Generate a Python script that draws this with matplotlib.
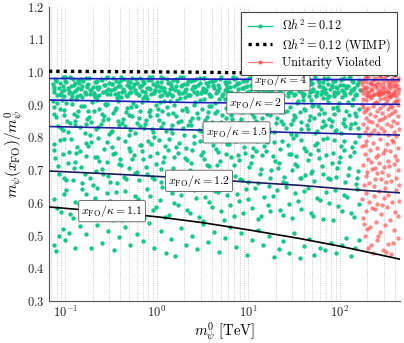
import numpy as np
import matplotlib
matplotlib.use('Agg')
import matplotlib.pyplot as plt
from matplotlib.lines import Line2D
from matplotlib.ticker import NullFormatter

plt.rcParams['font.family'] = 'serif'
plt.rcParams['font.serif'] = ['cmr10']
plt.rcParams['mathtext.fontset'] = 'cm'
plt.rcParams['axes.formatter.use_mathtext'] = True

# scan points: (log10 m0 [TeV], m(x_FO)/m0)
green_top = [
    (-1.14,.962),(-1.12,.938),(-1.10,.975),(-1.07,.951),(-1.05,.929),(-1.03,.983),(-1.01,.946),(-0.99,.969),(-0.96,.934),(-0.94,.957),
    (-0.92,.979),(-0.90,.941),(-0.87,.926),(-0.85,.965),(-0.83,.949),(-0.81,.972),(-0.78,.931),(-0.76,.955),(-0.74,.981),(-0.72,.944),
    (-0.69,.937),(-0.67,.968),(-0.65,.953),(-0.63,.928),(-0.60,.976),(-0.58,.959),(-0.56,.942),(-0.54,.984),(-0.51,.933),(-0.49,.964),
    (-0.47,.947),(-0.45,.971),(-0.42,.927),(-0.40,.956),(-0.38,.939),(-0.36,.978),(-0.33,.961),(-0.31,.935),(-0.29,.952),(-0.27,.982),
    (-0.24,.944),(-0.22,.967),(-0.20,.929),(-0.18,.958),(-0.15,.973),(-0.13,.940),(-0.11,.950),(-0.09,.985),(-0.06,.932),(-0.04,.963),
    (-0.02,.945),(0.00,.970),(0.03,.926),(0.05,.954),(0.07,.980),(0.09,.938),(0.12,.966),(0.14,.949),(0.16,.930),(0.18,.975),
    (0.21,.957),(0.23,.943),(0.25,.983),(0.27,.934),(0.30,.962),(0.32,.948),(0.34,.971),(0.36,.928),(0.39,.955),(0.41,.939),
    (0.43,.977),(0.45,.960),(0.48,.936),(0.50,.952),(0.52,.981),(0.54,.945),(0.57,.968),(0.59,.927),(0.61,.959),(0.63,.974),
    (0.66,.941),(0.68,.951),(0.70,.984),(0.72,.931),(0.75,.964),(0.77,.946),(0.79,.969),(0.81,.927),(0.84,.956),(0.86,.980),
    (0.88,.937),(0.90,.965),(0.93,.950),(0.95,.929),(0.97,.976),(0.99,.958),(1.02,.942),(1.04,.983),(1.06,.933),(1.08,.963),
    (1.11,.947),(1.13,.972),(1.15,.926),(1.17,.955),(1.20,.938),(1.22,.978),(1.24,.961),(1.26,.935),(1.29,.953),(1.31,.981),
    (1.33,.944),(1.35,.967),(1.38,.930),(1.40,.958),(1.42,.973),(1.44,.940),(1.47,.950),(1.49,.985),(1.51,.932),(1.53,.963),
    (1.56,.945),(1.58,.970),(1.60,.927),(1.62,.954),(1.65,.979),(1.67,.938),(1.69,.966),(1.71,.949),(1.74,.930),(1.76,.975),
    (1.78,.957),(1.80,.943),(1.83,.982),(1.85,.934),(1.87,.962),(1.89,.948),(1.92,.971),(1.94,.928),(1.96,.955),(1.98,.939),
    (2.01,.977),(2.03,.960),(2.05,.936),(2.07,.952),(2.10,.980),(2.12,.945),(2.14,.968),(2.16,.928),(2.19,.959),(2.21,.974),
    (-1.13,.947),(-1.10,.971),(-1.06,.933),(-1.03,.958),(-1.00,.984),(-0.96,.941),(-0.93,.925),(-0.89,.966),(-0.86,.952),(-0.83,.977),
    (-0.79,.936),(-0.76,.961),(-0.73,.944),(-0.69,.929),(-0.66,.973),(-0.63,.955),(-0.59,.939),(-0.56,.982),(-0.53,.949),(-0.49,.964),
    (-0.46,.931),(-0.43,.957),(-0.39,.976),(-0.36,.942),(-0.33,.927),(-0.29,.969),(-0.26,.953),(-0.23,.937),(-0.19,.980),(-0.16,.960),
    (-0.13,.926),(-0.09,.950),(-0.06,.974),(-0.03,.939),(0.01,.958),(0.04,.983),(0.07,.944),(0.11,.930),(0.14,.967),(0.17,.952),
    (0.21,.978),(0.24,.935),(0.27,.961),(0.31,.946),(0.34,.928),(0.37,.972),(0.41,.956),(0.44,.940),(0.47,.981),(0.51,.948),
    (0.54,.965),(0.57,.932),(0.61,.958),(0.64,.975),(0.67,.943),(0.71,.926),(0.74,.968),(0.77,.954),(0.81,.938),(0.84,.979),
    (0.87,.962),(0.91,.925),(0.94,.951),(0.97,.973),(1.01,.940),(1.04,.957),(1.07,.984),(1.11,.945),(1.14,.931),(1.17,.966),
    (1.21,.953),(1.24,.977),(1.27,.936),(1.31,.960),(1.34,.943),(1.37,.929),(1.41,.972),(1.44,.955),(1.47,.939),(1.51,.982),
    (1.54,.949),(1.57,.964),(1.61,.931),(1.64,.957),(1.67,.976),(1.71,.942),(1.74,.927),(1.77,.969),(1.81,.953),(1.84,.937),
    (1.87,.980),(1.91,.960),(1.94,.926),(1.97,.950),(2.01,.974),(2.04,.939),(2.07,.958),(2.11,.983),(2.14,.944),(2.18,.930),
    (-1.13,.955),(-1.11,.979),(-1.09,.930),(-1.06,.967),(-1.04,.943),(-1.02,.926),(-1.00,.972),(-0.97,.950),(-0.95,.985),(-0.93,.936),
    (-0.91,.961),(-0.88,.946),(-0.86,.975),(-0.84,.928),(-0.82,.957),(-0.79,.940),(-0.77,.982),(-0.75,.963),(-0.73,.933),(-0.70,.953),
    (-0.68,.970),(-0.66,.925),(-0.64,.948),(-0.61,.977),(-0.59,.938),(-0.57,.959),(-0.55,.931),(-0.52,.966),(-0.50,.944),(-0.48,.980),
    (-0.46,.951),(-0.43,.934),(-0.41,.968),(-0.39,.985),(-0.37,.947),(-0.34,.929),(-0.32,.973),(-0.30,.956),(-0.28,.939),(-0.25,.962),
    (-0.23,.978),(-0.21,.932),(-0.19,.954),(-0.16,.941),(-0.14,.965),(-0.12,.927),(-0.10,.975),(-0.07,.949),(-0.05,.983),(-0.03,.936),
    (-0.01,.958),(0.02,.943),(0.04,.969),(0.06,.930),(0.08,.952),(0.11,.979),(0.13,.937),(0.15,.960),(0.17,.925),(0.20,.946),
    (0.22,.971),(0.24,.934),(0.26,.956),(0.29,.984),(0.31,.940),(0.33,.963),(0.35,.929),(0.38,.948),(0.40,.976),(0.42,.954),
    (0.44,.931),(0.47,.967),(0.49,.943),(0.51,.982),(0.53,.938),(0.56,.957),(0.58,.926),(0.60,.973),(0.62,.950),(0.65,.935),
    (0.67,.961),(0.69,.978),(0.71,.928),(0.74,.945),(0.76,.970),(0.78,.939),(0.80,.955),(0.83,.984),(0.85,.932),(0.87,.966),
    (0.89,.947),(0.92,.925),(0.94,.972),(0.96,.953),(0.98,.940),(1.01,.980),(1.03,.960),(1.05,.930),(1.07,.949),(1.10,.975),
    (1.12,.936),(1.14,.962),(1.16,.944),(1.19,.983),(1.21,.928),(1.23,.957),(1.25,.941),(1.28,.969),(1.30,.933),(1.32,.951),
    (1.34,.977),(1.37,.926),(1.39,.948),(1.41,.964),(1.43,.937),(1.46,.981),(1.48,.955),(1.50,.929),(1.52,.970),(1.55,.942),
    (1.57,.959),(1.59,.934),(1.61,.976),(1.64,.951),(1.66,.927),(1.68,.963),(1.70,.945),(1.73,.984),(1.75,.938),(1.77,.956),
    (1.79,.931),(1.82,.968),(1.84,.947),(1.86,.979),(1.88,.925),(1.91,.953),(1.93,.940),(1.95,.973),(1.97,.935),(2.00,.961),
    (2.02,.944),(2.04,.982),(2.06,.929),(2.09,.957),(2.11,.937),(2.13,.971),(2.15,.950),(2.18,.933),(2.20,.966),(2.22,.946),
]
green_upper = [
    (-1.14,.912),(-1.10,.861),(-1.06,.887),(-1.03,.823),(-0.99,.904),(-0.95,.845),(-0.91,.872),(-0.88,.918),(-0.84,.831),(-0.80,.896),
    (-0.76,.856),(-0.73,.808),(-0.69,.879),(-0.65,.915),(-0.61,.840),(-0.58,.866),(-0.54,.901),(-0.50,.817),(-0.46,.884),(-0.43,.851),
    (-0.39,.922),(-0.35,.835),(-0.31,.869),(-0.28,.893),(-0.24,.812),(-0.20,.858),(-0.16,.908),(-0.13,.842),(-0.09,.876),(-0.05,.826),
    (-0.01,.899),(0.02,.853),(0.06,.881),(0.10,.819),(0.14,.910),(0.17,.838),(0.21,.864),(0.25,.920),(0.29,.828),(0.32,.889),
    (0.36,.849),(0.40,.805),(0.44,.874),(0.47,.913),(0.51,.836),(0.55,.862),(0.59,.897),(0.62,.815),(0.66,.882),(0.70,.847),
    (0.74,.917),(0.77,.833),(0.81,.867),(0.85,.891),(0.89,.810),(0.92,.855),(0.96,.906),(1.00,.844),(1.04,.871),(1.07,.821),
    (1.11,.903),(1.15,.859),(1.19,.885),(1.22,.825),(1.26,.911),(1.30,.843),(1.34,.878),(1.37,.919),(1.41,.829),(1.45,.894),
    (1.49,.852),(1.52,.806),(1.56,.877),(1.60,.914),(1.64,.839),(1.67,.865),(1.71,.900),(1.75,.818),(1.79,.886),(1.82,.850),
    (1.86,.921),(1.90,.834),(1.94,.870),(1.97,.892),(2.01,.813),(2.05,.857),(2.09,.907),(2.12,.841),(2.16,.873),(2.20,.827),
    (-1.12,.893),(-1.08,.834),(-1.04,.915),(-1.01,.868),(-0.97,.817),(-0.93,.902),(-0.89,.849),(-0.86,.879),(-0.82,.924),(-0.78,.841),
    (-0.74,.862),(-0.71,.909),(-0.67,.825),(-0.63,.886),(-0.59,.853),(-0.56,.898),(-0.52,.811),(-0.48,.873),(-0.44,.919),(-0.41,.837),
    (-0.37,.857),(-0.33,.890),(-0.29,.821),(-0.26,.905),(-0.22,.845),(-0.18,.881),(-0.14,.829),(-0.11,.916),(-0.07,.864),(-0.03,.802),
    (0.01,.888),(0.04,.832),(0.08,.912),(0.12,.870),(0.16,.814),(0.19,.900),(0.23,.846),(0.27,.883),(0.31,.923),(0.34,.839),
    (0.38,.860),(0.42,.907),(0.46,.822),(0.49,.887),(0.53,.854),(0.57,.895),(0.61,.809),(0.64,.875),(0.68,.918),(0.72,.836),
    (0.76,.859),(0.79,.889),(0.83,.820),(0.87,.904),(0.91,.848),(0.94,.880),(0.98,.830),(1.02,.914),(1.06,.863),(1.09,.804),
    (1.13,.891),(1.17,.833),(1.21,.913),(1.24,.867),(1.28,.816),(1.32,.901),(1.36,.850),(1.39,.878),(1.43,.925),(1.47,.840),
    (1.51,.861),(1.54,.910),(1.58,.824),(1.62,.885),(1.66,.852),(1.69,.897),(1.73,.812),(1.77,.872),(1.81,.920),(1.84,.838),
    (1.88,.856),(1.92,.890),(1.96,.822),(1.99,.906),(2.03,.844),(2.07,.882),(2.11,.828),(2.14,.917),(2.18,.865),(2.21,.803),
    (-1.13,.870),(-1.09,.905),(-1.05,.829),(-1.02,.884),(-0.98,.851),(-0.94,.918),(-0.90,.838),(-0.87,.866),(-0.83,.895),(-0.79,.813),
    (-0.75,.880),(-0.72,.846),(-0.68,.922),(-0.64,.832),(-0.60,.871),(-0.57,.903),(-0.53,.855),(-0.49,.820),(-0.45,.889),(-0.42,.911),
    (-0.38,.843),(-0.34,.877),(-0.30,.808),(-0.27,.864),(-0.23,.897),(-0.19,.836),(-0.15,.920),(-0.12,.853),(-0.08,.884),(-0.04,.817),
    (0.00,.869),(0.03,.909),(0.07,.843),(0.11,.893),(0.15,.826),(0.18,.875),(0.22,.914),(0.26,.851),(0.30,.807),(0.33,.882),
    (0.37,.837),(0.41,.898),(0.45,.860),(0.48,.819),(0.52,.916),(0.56,.878),(0.60,.846),(0.63,.904),(0.67,.831),(0.71,.868),
    (0.75,.891),(0.78,.812),(0.82,.856),(0.86,.920),(0.90,.838),(0.93,.877),(0.97,.901),(1.01,.824),(1.05,.887),(1.08,.849),
    (1.12,.912),(1.16,.834),(1.20,.872),(1.23,.815),(1.27,.896),(1.31,.858),(1.35,.921),(1.38,.842),(1.42,.880),(1.46,.811),
    (1.50,.868),(1.53,.905),(1.57,.847),(1.61,.887),(1.65,.826),(1.68,.915),(1.72,.858),(1.76,.895),(1.80,.832),(1.83,.873),
    (1.87,.909),(1.91,.849),(1.95,.818),(1.98,.883),(2.02,.923),(2.06,.836),(2.10,.868),(2.13,.899),(2.17,.844),(2.21,.886),
]
green_middle = [
    (-1.13,.781),(-1.08,.712),(-1.03,.748),(-0.99,.669),(-0.94,.794),(-0.89,.726),(-0.84,.759),(-0.79,.687),(-0.75,.772),(-0.70,.655),
    (-0.65,.739),(-0.60,.704),(-0.55,.787),(-0.51,.663),(-0.46,.752),(-0.41,.719),(-0.36,.678),(-0.31,.766),(-0.27,.733),(-0.22,.695),
    (-0.17,.776),(-0.12,.709),(-0.07,.744),(-0.03,.672),(0.02,.791),(0.07,.723),(0.12,.762),(0.17,.684),(0.21,.769),(0.26,.658),
    (0.31,.736),(0.36,.701),(0.41,.784),(0.45,.666),(0.50,.755),(0.55,.716),(0.60,.681),(0.65,.763),(0.69,.729),(0.74,.692),
    (0.79,.779),(0.84,.715),(0.89,.746),(0.93,.668),(0.98,.797),(1.03,.721),(1.08,.757),(1.13,.689),(1.17,.774),(1.22,.652),
    (1.27,.742),(1.32,.706),(1.37,.789),(1.41,.661),(1.46,.750),(1.51,.718),(1.56,.676),(1.61,.768),(1.65,.731),(1.70,.697),
    (1.75,.783),(1.80,.711),(1.85,.747),(1.89,.671),(1.94,.792),(1.99,.725),(2.04,.760),(2.09,.686),(2.13,.771),(2.18,.657),
    (-1.11,.738),(-1.06,.793),(-1.01,.676),(-0.96,.754),(-0.91,.707),(-0.87,.770),(-0.82,.661),(-0.77,.744),(-0.72,.786),(-0.67,.697),
    (-0.63,.728),(-0.58,.764),(-0.53,.682),(-0.48,.749),(-0.43,.799),(-0.39,.715),(-0.34,.673),(-0.29,.758),(-0.24,.690),(-0.19,.777),
    (-0.15,.735),(-0.10,.790),(-0.05,.679),(0.00,.751),(0.05,.703),(0.09,.773),(0.14,.664),(0.19,.741),(0.24,.782),(0.29,.694),
    (0.33,.731),(0.38,.761),(0.43,.685),(0.48,.746),(0.53,.796),(0.57,.712),(0.62,.670),(0.67,.756),(0.72,.693),(0.77,.780),
    (0.81,.740),(0.86,.788),(0.91,.674),(0.96,.753),(1.01,.708),(1.05,.767),(1.10,.659),(1.15,.745),(1.20,.785),(1.25,.699),
    (1.29,.727),(1.34,.765),(1.39,.680),(1.44,.748),(1.49,.798),(1.53,.713),(1.58,.675),(1.63,.759),(1.68,.691),(1.73,.778),
    (1.77,.737),(1.82,.794),(1.87,.677),(1.92,.752),(1.97,.705),(2.01,.772),(2.06,.662),(2.11,.743),(2.16,.787),(2.20,.698),
    (-1.12,.760),(-1.07,.688),(-1.02,.795),(-0.97,.722),(-0.92,.668),(-0.88,.751),(-0.83,.709),(-0.78,.783),(-0.73,.676),(-0.68,.740),
    (-0.64,.797),(-0.59,.689),(-0.54,.726),(-0.49,.771),(-0.44,.660),(-0.40,.735),(-0.35,.790),(-0.30,.705),(-0.25,.746),(-0.20,.668),
    (-0.16,.757),(-0.11,.687),(-0.06,.779),(-0.01,.717),(0.04,.664),(0.08,.741),(0.13,.794),(0.18,.706),(0.23,.752),(0.28,.675),
    (0.32,.768),(0.37,.722),(0.42,.656),(0.47,.788),(0.52,.733),(0.56,.690),(0.61,.777),(0.66,.714),(0.71,.656),(0.76,.750),
    (0.80,.796),(0.85,.681),(0.90,.732),(0.95,.770),(1.00,.663),(1.04,.742),(1.09,.788),(1.14,.703),(1.19,.759),(1.24,.676),
    (1.28,.785),(1.33,.722),(1.38,.663),(1.43,.776),(1.48,.700),(1.52,.742),(1.57,.791),(1.62,.684),(1.67,.749),(1.72,.667),
    (1.76,.762),(1.81,.688),(1.86,.797),(1.91,.722),(1.96,.678),(2.00,.741),(2.05,.789),(2.10,.707),(2.15,.754),(2.19,.676),
]
green_lower = [
    (-1.12,.612),(-1.05,.571),(-0.99,.638),(-0.92,.553),(-0.85,.596),(-0.78,.627),(-0.72,.582),(-0.65,.645),(-0.58,.561),(-0.51,.604),
    (-0.45,.633),(-0.38,.548),(-0.31,.589),(-0.24,.620),(-0.18,.566),(-0.11,.641),(-0.04,.578),(0.03,.609),(0.09,.556),(0.16,.630),
    (0.23,.593),(0.30,.647),(0.36,.569),(0.43,.615),(0.50,.544),(0.57,.601),(0.63,.636),(0.70,.575),(0.77,.623),(0.84,.558),
    (0.90,.606),(0.97,.642),(1.04,.585),(1.11,.551),(1.17,.618),(1.24,.574),(1.31,.639),(1.38,.563),(1.44,.597),(1.51,.629),
    (1.58,.580),(1.65,.646),(1.71,.559),(1.78,.608),(1.85,.634),(1.92,.547),(1.98,.591),(2.05,.624),(2.12,.568),(2.19,.643),
    (-1.09,.583),(-1.02,.626),(-0.95,.566),(-0.89,.603),(-0.82,.643),(-0.75,.557),(-0.68,.614),(-0.62,.590),(-0.55,.631),(-0.48,.547),
    (-0.41,.598),(-0.35,.637),(-0.28,.573),(-0.21,.610),(-0.14,.552),(-0.08,.621),(-0.01,.586),(0.06,.648),(0.13,.562),(0.19,.599),
    (0.26,.625),(0.33,.577),(0.40,.640),(0.46,.555),(0.53,.616),(0.60,.587),(0.67,.632),(0.73,.546),(0.80,.594),(0.87,.628),
    (0.94,.568),(1.00,.611),(1.07,.644),(1.14,.560),(1.21,.592),(1.27,.622),(1.34,.579),(1.41,.649),(1.48,.554),(1.54,.605),
    (1.61,.635),(1.68,.570),(1.75,.613),(1.81,.549),(1.88,.600),(1.95,.640),(2.02,.576),(2.08,.617),(2.15,.556),(2.21,.595),
]
green_bottom = [
    (-1.13,.472),(-1.10,.452),(-1.07,.498),(-1.03,.520),(-1.00,.487),(-0.96,.508),(-0.90,.462),(-0.84,.529),(-0.78,.505),(-0.72,.463),
    (-0.66,.531),(-0.60,.478),(-0.53,.512),(-0.47,.455),(-0.41,.494),(-0.35,.526),(-0.29,.470),(-0.22,.503),(-0.15,.483),(-0.09,.538),
    (-0.03,.461),(0.04,.515),(0.10,.447),(0.15,.489),(0.20,.436),(0.26,.524),(0.32,.472),(0.38,.499),(0.44,.458),(0.50,.534),
    (0.56,.481),(0.62,.511),(0.68,.449),(0.74,.493),(0.80,.527),(0.86,.465),(0.92,.506),(0.98,.441),(1.04,.486),(1.10,.518),
    (1.16,.470),(1.22,.497),(1.28,.434),(1.33,.459),(1.38,.482),(1.44,.445),(1.50,.508),(1.56,.431),(1.61,.468),(1.66,.490),
    (1.72,.440),(1.78,.462),(1.84,.455),(1.90,.478),(1.96,.446),(2.02,.470),(2.07,.492),(2.12,.438),(2.17,.463),(2.21,.485),
]
red_points = [
    (2.24,.962),(2.25,.935),(2.26,.978),(2.27,.947),(2.28,.929),(2.29,.970),(2.30,.953),(2.31,.983),(2.32,.940),(2.33,.926),
    (2.34,.966),(2.35,.944),(2.36,.975),(2.37,.932),(2.38,.958),(2.39,.981),(2.40,.937),(2.41,.951),(2.42,.969),(2.43,.928),
    (2.44,.960),(2.45,.942),(2.46,.977),(2.47,.934),(2.48,.955),(2.49,.984),(2.50,.946),(2.51,.927),(2.52,.964),(2.53,.939),
    (2.54,.972),(2.55,.950),(2.56,.931),(2.57,.980),(2.58,.957),(2.59,.943),(2.60,.968),(2.61,.925),(2.62,.961),(2.63,.936),
    (2.64,.974),(2.645,.949),(2.245,.945),(2.305,.926),(2.355,.959),(2.415,.933),(2.465,.952),(2.525,.940),(2.575,.930),(2.625,.948),
    (2.245,.972),(2.265,.955),(2.285,.983),(2.295,.938),(2.325,.965),(2.335,.949),(2.365,.928),(2.375,.977),(2.395,.962),(2.425,.943),
    (2.435,.984),(2.445,.931),(2.475,.967),(2.485,.939),(2.505,.975),(2.535,.956),(2.545,.927),(2.555,.965),(2.585,.974),(2.595,.935),
    (2.605,.956),(2.635,.982),(2.255,.918),(2.285,.884),(2.375,.905),(2.435,.889),(2.485,.921),(2.545,.895),(2.595,.908),(2.635,.915),
    (2.24,.901),(2.25,.842),(2.26,.876),(2.27,.815),(2.28,.913),(2.29,.858),(2.30,.829),(2.31,.889),(2.32,.806),(2.33,.871),
    (2.34,.921),(2.35,.848),(2.36,.895),(2.37,.822),(2.38,.866),(2.39,.909),(2.40,.837),(2.41,.881),(2.42,.812),(2.43,.853),
    (2.44,.917),(2.45,.830),(2.46,.874),(2.47,.898),(2.48,.819),(2.49,.862),(2.50,.906),(2.51,.841),(2.52,.886),(2.53,.808),
    (2.54,.869),(2.55,.922),(2.56,.834),(2.57,.892),(2.58,.851),(2.59,.816),(2.60,.879),(2.61,.911),(2.62,.845),(2.63,.865),
    (2.64,.899),(2.645,.826),(2.255,.892),(2.315,.851),(2.345,.813),(2.405,.904),(2.455,.856),(2.515,.915),(2.565,.873),(2.615,.803),
    (2.24,.772),(2.25,.715),(2.27,.748),(2.28,.681),(2.29,.790),(2.31,.733),(2.32,.660),(2.33,.761),(2.35,.702),(2.36,.783),
    (2.37,.650),(2.39,.739),(2.40,.692),(2.41,.767),(2.43,.721),(2.44,.796),(2.45,.674),(2.47,.753),(2.48,.708),(2.49,.644),
    (2.51,.779),(2.52,.728),(2.53,.686),(2.55,.757),(2.56,.665),(2.57,.793),(2.59,.717),(2.60,.743),(2.61,.677),(2.63,.768),
    (2.64,.699),(2.645,.655),(2.26,.655),(2.30,.694),(2.34,.726),(2.38,.671),(2.42,.745),(2.46,.693),(2.50,.662),(2.54,.712),
    (2.58,.786),(2.62,.731),(2.275,.778),(2.385,.705),(2.495,.760),
    (2.24,.612),(2.25,.553),(2.27,.498),(2.28,.631),(2.29,.576),(2.31,.462),(2.32,.601),(2.33,.527),(2.35,.585),(2.36,.447),
    (2.37,.620),(2.39,.541),(2.40,.486),(2.41,.597),(2.43,.636),(2.44,.509),(2.45,.565),(2.47,.455),(2.48,.614),(2.49,.532),
    (2.51,.588),(2.52,.474),(2.53,.625),(2.55,.548),(2.56,.442),(2.57,.603),(2.59,.518),(2.60,.571),(2.61,.639),(2.63,.493),
    (2.64,.558),(2.645,.606),(2.26,.534),(2.30,.520),(2.34,.471),(2.38,.582),(2.42,.499),(2.46,.594),(2.50,.449),(2.58,.478),
]

# contour lines x_FO/kappa, sampled at these log10 masses
curve_logm = [-1.18, -0.5, 0.03, 0.5, 1.0, 1.34, 1.57, 2.0, 2.3, 2.66]
wimp_ratio = [1.002, 1.001, 1.0, .999, .997, .996, .995, .993, .992, .990]
k4_ratio = [.980, .979, .9785, .978, .9775, .977, .977, .9765, .976, .976]
k2_ratio = [.914, .911, .908, .906, .905, .904, .903, .902, .9015, .901]
k15_ratio = [.833, .829, .825, .822, .818, .816, .814, .811, .809, .807]
k12_ratio = [.697, .688, .680, .673, .663, .657, .653, .643, .637, .630]
k11_ratio = [.587, .571, .556, .539, .517, .501, .490, .467, .449, .427]

labels = [r'$x_{\rm FO}/\kappa = 4$', r'$x_{\rm FO}/\kappa = 2$', r'$x_{\rm FO}/\kappa = 1.5$',
          r'$x_{\rm FO}/\kappa = 1.2$', r'$x_{\rm FO}/\kappa = 1.1$']
label_logm = [1.355, 1.08, 0.87, 0.46, -0.49]
label_ratio = [0.975, 0.904, 0.815, 0.667, 0.574]
line_colors = ['#1c1cc8', '#1c1cb8', '#1e1e9e', '#1c1c5c', '#000000']

y_ticks = [0.3, 0.4, 0.5, 0.6, 0.7, 0.8, 0.9, 1.0, 1.1, 1.2]

green_col = '#14c88c'
red_col = '#ff3a3a'

fig = plt.figure(figsize=(4.04, 3.43), dpi=100)
ax = fig.add_axes([0.121, 0.123, 0.869, 0.858])

g = np.array(green_top + green_upper + green_middle + green_lower + green_bottom)
r = np.array(red_points)
ax.scatter(10**g[:, 0], g[:, 1], s=10, color=green_col, linewidths=0, zorder=2)
ax.scatter(10**r[:, 0], r[:, 1], s=10, color=red_col, alpha=0.6, linewidths=0, zorder=2)

m_line = 10**np.array(curve_logm)
ax.plot(m_line, wimp_ratio, color='black', lw=2.4, dashes=(1, 1.2), zorder=3)
for ratio, col in zip([k4_ratio, k2_ratio, k15_ratio, k12_ratio, k11_ratio], line_colors):
    ax.plot(m_line, ratio, color=col, lw=1.2, zorder=3)

for lab, lx, ly in zip(labels, label_logm, label_ratio):
    ax.text(10**lx, ly, lab, ha='center', va='center', fontsize=8.5, zorder=5,
            bbox=dict(boxstyle='round,pad=0.22,rounding_size=0.12', fc='white', ec='#555555', lw=0.6))

ax.set_xscale('log')
ax.set_xlim(0.066, 453)
ax.set_ylim(0.3, 1.2)
ax.set_yticks(y_ticks)
ax.xaxis.set_minor_formatter(NullFormatter())
ax.xaxis.grid(True, which='both', linestyle=':', color='#bbbbbb', lw=0.6)
ax.set_axisbelow(True)
ax.tick_params(which='both', length=0, labelsize=9, colors='#222222', pad=3)
for s in ['top', 'right']:
    ax.spines[s].set_visible(False)
for s in ['left', 'bottom']:
    ax.spines[s].set_color('#555555')
    ax.spines[s].set_linewidth(0.8)

ax.set_xlabel(r'$m^0_\psi\ [\mathrm{TeV}]$', fontsize=10.5, labelpad=0)
ax.set_ylabel(r'$m_\psi(x_{\rm FO})/m^0_\psi$', fontsize=11, labelpad=1)

handles = [
    Line2D([], [], color=green_col, lw=1, marker='o', markersize=2),
    Line2D([], [], color='black', lw=2.4, dashes=(1, 1.2)),
    Line2D([], [], color=red_col, alpha=0.6, lw=1, marker='o', markersize=2),
]
leg = ax.legend(handles, [r'$\Omega h^2 = 0.12$', r'$\Omega h^2 = 0.12$ (WIMP)', 'Unitarity Violated'],
                loc='upper right', bbox_to_anchor=(0.991, 0.982), borderaxespad=0,
                fontsize=8.8, fancybox=False, edgecolor='#444444', framealpha=1,
                labelspacing=0.25, borderpad=0.5)
leg.get_frame().set_linewidth(0.8)
leg.set_zorder(6)

fig.savefig('out.png', dpi=100)
